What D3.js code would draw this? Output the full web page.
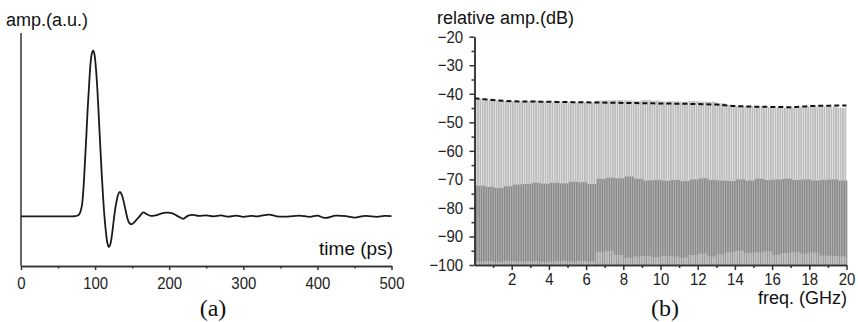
<!DOCTYPE html>
<html>
<head>
<meta charset="utf-8">
<script src="https://cdn.jsdelivr.net/npm/d3@7"></script>
<style>
  body { margin: 0; background: #fff; }
  svg { display: block; font-family: "Liberation Sans", Arial, sans-serif; }
  .axis path, .axis line { stroke: #333; stroke-width: 1.5; }
  .axis text { fill: #222; font-size: 17px; }
</style>
</head>
<body>
<svg id="chart" width="858" height="322"></svg>
<script>
// (a) pulse in time domain
const pulseTime = [0, 40, 70, 76, 79, 82, 84, 86, 88, 90, 92, 94, 96, 97.5, 99, 101, 103, 105, 107, 109, 111, 113, 115, 116.5, 118.5, 120.5, 122.5, 125, 127, 129, 131, 133.5, 136, 138.5, 141, 143.5, 146, 149, 152, 156, 160, 165, 170, 175, 180, 185, 190, 196, 202, 207, 213, 219, 225, 232, 240, 250, 260, 270, 280, 290, 300, 310, 320, 335, 345, 360, 375, 390, 400, 410, 425, 440, 450, 465, 480, 490, 500];
const pulseAmp = [0, 0, 0, 0.003, 0.015, 0.06, 0.15, 0.3, 0.47, 0.65, 0.8, 0.93, 0.99, 1.0, 0.98, 0.9, 0.77, 0.6, 0.42, 0.25, 0.1, -0.02, -0.11, -0.16, -0.186, -0.17, -0.12, -0.03, 0.04, 0.09, 0.13, 0.147, 0.13, 0.09, 0.04, -0.01, -0.04, -0.048, -0.04, -0.02, 0.0, 0.023, 0.012, 0.003, 0.004, 0.01, 0.018, 0.022, 0.02, 0.012, -0.003, -0.015, 0.003, 0.008, 0.002, 0.006, 0.0, 0.005, -0.002, 0.004, -0.003, 0.002, 0.0, 0.01, 0.0, -0.002, 0.004, -0.003, 0.004, -0.01, 0.004, 0.0, -0.008, 0.003, -0.003, 0.002, 0.001];
const timeTicks = [0, 100, 200, 300, 400, 500];
const timeMinorTicks = [50, 150, 250, 350, 450];

// (b) spectrum, levels read per 0.5 GHz band
const bandStart = d3.range(0, 20, 0.5);
const combPeakDb = [-41.7, -42.0, -42.3, -42.5, -42.6, -42.6, -42.4, -42.6, -42.8, -42.9,
  -42.9, -43.0, -43.0, -42.4, -42.3, -42.2, -42.3, -42.5, -42.2, -42.4,
  -42.7, -42.6, -42.8, -42.5, -42.7, -42.8, -43.3, -43.9, -44.3, -44.4,
  -44.5, -44.7, -44.8, -44.9, -44.8, -44.5, -44.4, -44.4, -44.5, -44.9];
const noiseTopDb = [-72.2, -72.6, -73.0, -72.4, -71.8, -71.6, -71.2, -71.5, -71.2, -71.4,
  -70.8, -71.0, -71.6, -69.8, -69.4, -69.6, -69.0, -69.8, -70.4, -70.2,
  -70.5, -70.2, -70.6, -70.0, -69.6, -70.2, -70.4, -70.6, -70.0, -70.4,
  -69.8, -70.2, -70.0, -69.8, -70.2, -70.0, -70.4, -70.2, -70.0, -70.4];
const floorTopDb = [-98.8, -98.6, -98.9, -98.5, -98.7, -98.8, -98.6, -98.9, -98.7, -98.5,
  -98.8, -98.6, -98.7, -95.5, -95.0, -96.5, -97.5, -97.0, -96.8, -97.2,
  -96.8, -97.0, -97.4, -96.5, -96.0, -97.0, -96.2, -95.5, -95.0, -95.8,
  -95.5, -95.2, -96.4, -95.8, -95.5, -96.0, -95.6, -96.6, -96.8, -97.0];
const envelopeGHz = [0, 2, 4, 6, 8, 10, 12, 13, 14, 16, 17, 18, 20];
const envelopeDb = [-41.6, -42.6, -42.8, -43.0, -43.2, -43.4, -43.6, -43.8, -44.3, -44.6, -44.7, -44.3, -44.1];
const combSpacing = 0.125;
const freqTicks = [2, 4, 6, 8, 10, 12, 14, 16, 18, 20];
const freqMinorTicks = [1, 3, 5, 7, 9, 11, 13, 15, 17, 19];
const dbTicks = [-100, -90, -80, -70, -60, -50, -40, -30, -20];
const dbMinorTicks = [-95, -85, -75, -65, -55, -45, -35, -25];

const svg = d3.select('#chart');

// narrow, tall tick digits like the original
const squeeze = g => g.selectAll('text').attr('transform', 'scale(0.88, 1)');

// ---------- (a) ----------
const x = d3.scaleLinear().domain([0, 500]).range([21, 391.5]);
const y = d3.scaleLinear().domain([-0.3, 1.1]).range([266, 34]);

const gA = svg.append('g');

gA.append('line')
  .attr('x1', x(0)).attr('x2', x(0))
  .attr('y1', 33).attr('y2', y.range()[0])
  .attr('stroke', '#333').attr('stroke-width', 1.5);

gA.append('g')
  .attr('class', 'axis')
  .attr('transform', `translate(0, ${y.range()[0]})`)
  .call(d3.axisBottom(x).tickValues(timeMinorTicks).tickSize(2.5).tickSizeOuter(0).tickFormat(''));

gA.append('g')
  .attr('class', 'axis')
  .attr('transform', `translate(0, ${y.range()[0]})`)
  .call(d3.axisBottom(x).tickValues(timeTicks).tickSize(4).tickSizeOuter(0).tickPadding(7))
  .call(squeeze);

const pulse = pulseTime.map((t, i) => ({ t, a: pulseAmp[i] }));
const line = d3.line()
  .x(d => x(d.t))
  .y(d => y(d.a))
  .curve(d3.curveCatmullRom);

gA.append('path')
  .datum(pulse)
  .attr('fill', 'none')
  .attr('stroke', '#1a1a1a')
  .attr('stroke-width', 1.8)
  .attr('stroke-linejoin', 'round')
  .attr('d', line);

gA.append('text')
  .attr('x', 6).attr('y', 26)
  .attr('font-size', 18).attr('fill', '#111')
  .text('amp.(a.u.)');

gA.append('text')
  .attr('x', 393).attr('y', 255)
  .attr('text-anchor', 'end')
  .attr('font-size', 19).attr('fill', '#111')
  .text('time (ps)');

gA.append('text')
  .attr('x', 213).attr('y', 316)
  .attr('text-anchor', 'middle')
  .attr('font-family', '"Liberation Serif", "Times New Roman", serif')
  .attr('font-size', 24).attr('fill', '#111')
  .text('(a)');

// ---------- (b) ----------
const xf = d3.scaleLinear().domain([0, 20]).range([474.5, 846.5]);
const yd = d3.scaleLinear().domain([-100, -20]).range([265, 36.7]);

const gB = svg.append('g');

const bandIndex = f => Math.min(bandStart.length - 1, Math.floor(f / 0.5));
const combFreq = d3.range(combSpacing / 2, 20, combSpacing);

// tall comb lines
gB.append('g').selectAll('line')
  .data(combFreq)
  .join('line')
  .attr('x1', d => xf(d)).attr('x2', d => xf(d))
  .attr('y1', yd(-100))
  .attr('y2', d => yd(combPeakDb[bandIndex(d)]))
  .attr('stroke', '#bdbdbd')
  .attr('stroke-width', 1.9);

// noise floor, between the comb lines
gB.append('g').selectAll('line')
  .data(combFreq)
  .join('line')
  .attr('x1', d => xf(d + combSpacing / 2)).attr('x2', d => xf(d + combSpacing / 2))
  .attr('y1', yd(-100))
  .attr('y2', d => yd(noiseTopDb[bandIndex(d)]))
  .attr('stroke', '#8a8a8a')
  .attr('stroke-width', 1.6);

// lighter bottom floor
gB.append('g').selectAll('line')
  .data(combFreq)
  .join('line')
  .attr('x1', d => xf(d)).attr('x2', d => xf(d))
  .attr('y1', yd(-100))
  .attr('y2', d => yd(floorTopDb[bandIndex(d)]))
  .attr('stroke', '#c4c4c4')
  .attr('stroke-width', 1.6);

const envelope = envelopeGHz.map((f, i) => ({ f, v: envelopeDb[i] }));
gB.append('path')
  .datum(envelope)
  .attr('fill', 'none')
  .attr('stroke', '#111')
  .attr('stroke-width', 2)
  .attr('stroke-dasharray', '5,3')
  .attr('d', d3.line().x(d => xf(d.f)).y(d => yd(d.v)).curve(d3.curveMonotoneX));

gB.append('g')
  .attr('class', 'axis')
  .attr('transform', `translate(${xf(0)}, 0)`)
  .call(d3.axisLeft(yd).tickValues(dbMinorTicks).tickSize(3).tickSizeOuter(0).tickFormat(''));

gB.append('g')
  .attr('class', 'axis')
  .attr('transform', `translate(${xf(0)}, 0)`)
  .call(d3.axisLeft(yd).tickValues(dbTicks).tickSize(5).tickSizeOuter(0).tickPadding(8))
  .call(squeeze);

gB.append('g')
  .attr('class', 'axis')
  .attr('transform', `translate(0, ${yd(-100)})`)
  .call(d3.axisBottom(xf).tickValues(freqMinorTicks).tickSize(3).tickSizeOuter(0).tickFormat(''));

gB.append('g')
  .attr('class', 'axis')
  .attr('transform', `translate(0, ${yd(-100)})`)
  .call(d3.axisBottom(xf).tickValues(freqTicks).tickSize(5).tickSizeOuter(0).tickPadding(3))
  .call(squeeze);

gB.append('text')
  .attr('x', 437).attr('y', 24)
  .attr('font-size', 18).attr('fill', '#111')
  .text('relative amp.(dB)');

gB.append('text')
  .attr('x', 847).attr('y', 304)
  .attr('text-anchor', 'end')
  .attr('font-size', 18).attr('fill', '#111')
  .text('freq. (GHz)');

gB.append('text')
  .attr('x', 665).attr('y', 316)
  .attr('text-anchor', 'middle')
  .attr('font-family', '"Liberation Serif", "Times New Roman", serif')
  .attr('font-size', 24).attr('fill', '#111')
  .text('(b)');
</script>
</body>
</html>
